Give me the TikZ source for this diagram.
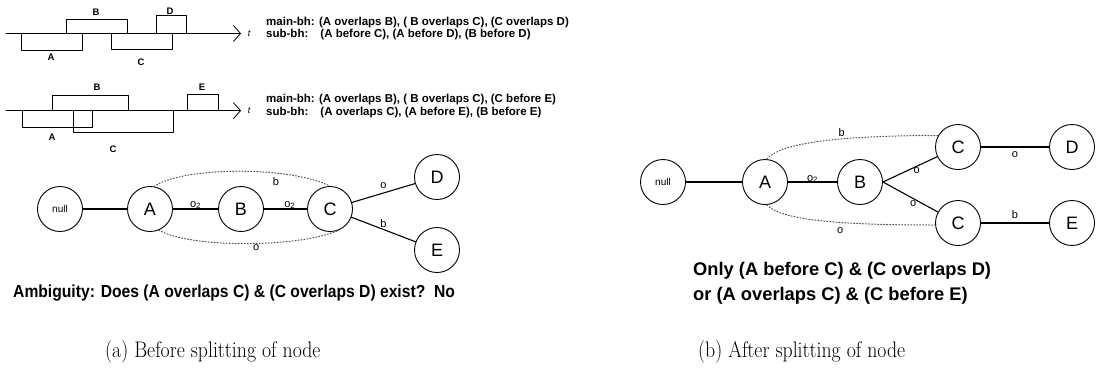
\documentclass[tikz,border=0pt]{standalone}
\usepackage{fontspec}
\newfontfamily\hv{Liberation Sans}
\newfontfamily\hvnarrow[FakeStretch=0.9]{Liberation Sans}
\newfontfamily\capserif[FakeStretch=0.88]{Latin Modern Roman}
\usetikzlibrary{arrows.meta}

\begin{document}
\begin{tikzpicture}[x=1pt, y=-1pt, line cap=round, line join=round]
  \tikzset{
    state/.style={circle, draw=black, line width=0.9pt, fill=white, minimum size=45pt, inner sep=0pt, font=\hv\fontsize{18}{18}\selectfont},
    link/.style={line width=1.1pt, draw=black},
    dot_arc/.style={line width=1pt, dotted, draw=black!70},
    edge_lab/.style={font=\hv\fontsize{11}{11}\selectfont, inner sep=1pt},
    ival/.style={line width=0.8pt, draw=black},
    ival_lab/.style={font=\hv\bfseries\fontsize{9.5}{9.5}\selectfont, inner sep=0pt},
    time_axis/.style={line width=0.8pt, -{Straight Barb[length=7pt, width=16pt, line width=0.8pt]}},
    bh/.style={anchor=base west, inner sep=0pt, font=\hv\bfseries\fontsize{11.5}{11.5}\selectfont},
    remark/.style={anchor=base west, inner sep=0pt, font=\hvnarrow\bfseries\fontsize{17.4}{17.4}\selectfont},
    subcap/.style={anchor=base west, inner sep=0pt, font=\capserif\fontsize{22.5}{26}\selectfont}
  }
  \useasboundingbox (0,0) rectangle (1101,373);

  % interval diagram 1
  \begin{scope}[shift={(0,33.5)}]
    \draw[time_axis] (6,0) -- (241,0);
    \node[font=\hv\itshape\fontsize{9}{9}\selectfont] (tone) at (249,0) {t};
    \draw[ival] (21,0) rectangle (82,16.5);
    \draw[ival] (66,-14.5) rectangle (127,0);
    \draw[ival] (111,0) rectangle (172,15.5);
    \draw[ival] (156,-18.5) rectangle (186,0);
    \node[ival_lab] (oneA) at (51,23.5) {A};
    \node[ival_lab] (oneB) at (96,-21.5) {B};
    \node[ival_lab] (oneC) at (141,28.5) {C};
    \node[ival_lab] (oneD) at (170,-22.5) {D};
  \end{scope}
  \node[bh] (mainone) at (266,25.7) {main-bh: (A overlaps B), ( B overlaps C), (C overlaps D)};
  \node[bh] (subone) at (266,37.2) {sub-bh:\hspace{1.05em}(A before C), (A before D), (B before D)};

  % interval diagram 2
  \begin{scope}[shift={(0,110.7)}]
    \draw[time_axis] (6,0) -- (241,0);
    \node[font=\hv\itshape\fontsize{9}{9}\selectfont] (ttwo) at (249,0) {t};
    \draw[ival] (22,0) rectangle (92,16.3);
    \draw[ival] (52,-15.7) rectangle (128,0);
    \draw[ival] (73,0) rectangle (173,21.3);
    \draw[ival] (187,-16.7) rectangle (218,0);
    \node[ival_lab] (twoA) at (52,26.3) {A};
    \node[ival_lab] (twoB) at (97,-23.7) {B};
    \node[ival_lab] (twoC) at (113,38.3) {C};
    \node[ival_lab] (twoE) at (202,-23.7) {E};
  \end{scope}
  \node[bh] (maintwo) at (266,102.2) {main-bh: (A overlaps B), ( B overlaps C), (C before E)};
  \node[bh] (subtwo) at (266,115.2) {sub-bh:\hspace{1.05em}(A overlaps C), (A before E), (B before E)};

  % (a) before splitting
  \node[state, font=\hv\fontsize{10}{10}\selectfont] (anull) at (60,209) {null};
  \node[state] (aA) at (150,209) {A};
  \node[state] (aB) at (241,209) {B};
  \node[state] (aC) at (330,209) {C};
  \node[state] (aD) at (437,177) {D};
  \node[state] (aE) at (437,250) {E};
  \draw[link] (anull) -- (aA);
  \draw[link] (aA) -- node[edge_lab, anchor=base, yshift=2pt] {o\textsubscript{2}} (aB);
  \draw[link] (aB) -- node[edge_lab, anchor=base, yshift=2pt, pos=0.6] {o\textsubscript{2}} (aC);
  \draw[link] (aC) -- node[edge_lab, above=3pt] {o} (aD);
  \draw[link] (aC) -- node[edge_lab, above=0pt] {b} (aE);
  \draw[dot_arc] (aA.80) .. controls +(30,-20) and +(-40,-20) .. node[edge_lab, below=3pt, pos=0.68] {b} (aC.90);
  \draw[dot_arc] (aA.-67) .. controls +(30,18) and +(-40,18) .. node[edge_lab, below=0pt, pos=0.55] {o} (aC.-67);
  \node[remark] (ambig) at (13,297) {Ambiguity: Does (A overlaps C) \& (C overlaps D) exist?\hspace{0.5em}No};

  % (b) after splitting
  \node[state, font=\hv\fontsize{10}{10}\selectfont] (bnull) at (663,182) {null};
  \node[state] (bA) at (765,182) {A};
  \node[state] (bB) at (860,182) {B};
  \node[state] (bCup) at (958,147) {C};
  \node[state] (bD) at (1072,147) {D};
  \node[state] (bClow) at (958,223) {C};
  \node[state] (bE) at (1072,223) {E};
  \draw[link] (bnull) -- (bA);
  \draw[link] (bA) -- node[edge_lab, anchor=base, yshift=1pt] {o\textsubscript{2}} (bB);
  \draw[link] (bB.east) -- node[edge_lab, below=0pt, pos=0.62] {o} (bCup);
  \draw[link] (bB.east) -- node[edge_lab, below=1pt, pos=0.55] {o} (bClow);
  \draw[link] (bCup) -- node[edge_lab, below=3pt] {o} (bD);
  \draw[link] (bClow) -- node[edge_lab, above=3pt] {b} (bE);
  \draw[dot_arc] (bA.85) .. controls +(15,-20) and +(-70,0) .. node[edge_lab, above=1pt, pos=0.55] {b} (bCup.150);
  \draw[dot_arc] (bA.-85) .. controls +(15,18) and +(-70,0) .. node[edge_lab, below=4pt, pos=0.55] {o} (bClow.185);
  \node[remark, font=\hv\bfseries\fontsize{18.3}{18.3}\selectfont] (onlyone) at (693,275) {Only (A before C) \& (C overlaps D)};
  \node[remark, font=\hv\bfseries\fontsize{18.3}{18.3}\selectfont] (onlytwo) at (693,300) {or (A overlaps C) \& (C before E)};

  \node[subcap] (capa) at (105,357) {(a) Before splitting of node};
  \node[subcap] (capb) at (698,357) {(b) After splitting of node};
\end{tikzpicture}
\end{document}
